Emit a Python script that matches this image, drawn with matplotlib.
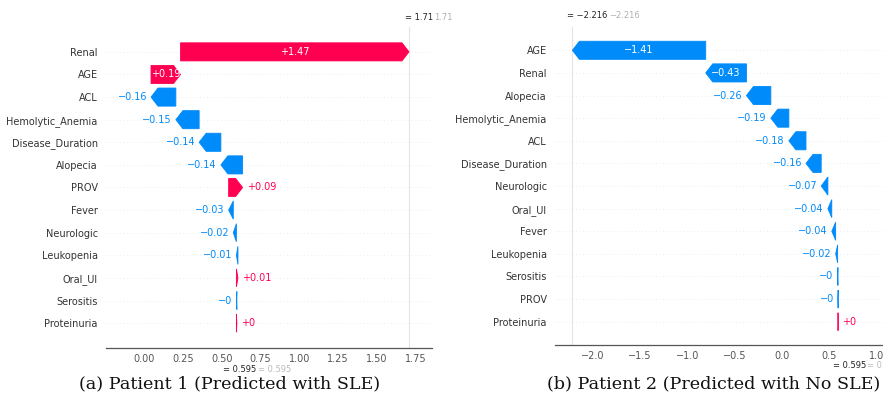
import matplotlib
matplotlib.use('Agg')
import matplotlib.pyplot as plt
import numpy as np

base_value = 0.595

# patient 1 (predicted with SLE), top row first
p1_features = ['Renal', 'AGE', 'ACL', 'Hemolytic_Anemia', 'Disease_Duration', 'Alopecia', 'PROV',
               'Fever', 'Neurologic', 'Leukopenia', 'Oral_Ul', 'Serositis', 'Proteinuria']
p1_shap = [1.472, 0.19, -0.16, -0.15, -0.14, -0.14, 0.09,
           -0.03, -0.02, -0.01, 0.01, -0.003, 0.003]

# patient 2 (predicted with no SLE), top row first
p2_features = ['AGE', 'Renal', 'Alopecia', 'Hemolytic_Anemia', 'ACL', 'Disease_Duration', 'Neurologic',
               'Oral_Ul', 'Fever', 'Leukopenia', 'Serositis', 'PROV', 'Proteinuria']
p2_shap = [-1.411, -0.431, -0.258, -0.191, -0.181, -0.161, -0.071,
           -0.041, -0.041, -0.021, -0.003, -0.002, 0.001]

p1_ticks = [0.0, 0.25, 0.5, 0.75, 1.0, 1.25, 1.5, 1.75]
p2_ticks = [-2.0, -1.5, -1.0, -0.5, 0.0, 0.5, 1.0]

RED = '#ff0051'
BLUE = '#008bfb'
W, H = 883, 400


def fmt(v):
    s = f'{v:+.2f}'.rstrip('0').rstrip('.')
    return s.replace('-', '\u2212')


def fmt_plain(v, nd):
    s = f'{v:.{nd}f}'.rstrip('0').rstrip('.')
    return s.replace('-', '\u2212')


def waterfall(fig, rect_px, xlim, ticks, tickfmt, features, shap, fx_nd, top_off, bot_off, ylim):
    l, r, t, b = rect_px
    ax = fig.add_axes([l / W, 1 - b / H, (r - l) / W, (b - t) / H])
    ax.set_xlim(*xlim)
    ax.set_ylim(*ylim)
    px_per_unit = (r - l) / (xlim[1] - xlim[0])
    head = 7 / px_per_unit

    n = len(features)
    ys = np.arange(n)[::-1]
    vals = np.array(shap)
    fx = base_value + vals.sum()

    for y in ys:
        ax.axhline(y, color='#dddddd', lw=0.5, dashes=(1, 4), zorder=0)
    ax.axvline(fx, color='#e4e4e4', lw=0.8, zorder=0)

    renderer = fig.canvas.get_renderer()
    pos = base_value
    for i in range(n - 1, -1, -1):
        v = vals[i]
        y = ys[i]
        col = RED if v > 0 else BLUE
        ax.arrow(pos, y, v, 0, width=0.8, head_width=0.8, length_includes_head=True,
                 head_length=min(abs(v), head), fc=col, ec=col, lw=0.6, zorder=2)
        mid = pos + v / 2
        txt = ax.text(mid, y, fmt(v), ha='center', va='center', color='white', fontsize=7, zorder=3)
        tw = txt.get_window_extent(renderer=renderer).width
        if tw > abs(v) * px_per_unit:
            txt.remove()
            end = pos + v
            if v > 0:
                ax.annotate(fmt(v), xy=(end, y), xytext=(4, 0), textcoords='offset pixels',
                            ha='left', va='center', color=col, fontsize=7)
            else:
                ax.annotate(fmt(v), xy=(end, y), xytext=(-4, 0), textcoords='offset pixels',
                            ha='right', va='center', color=col, fontsize=7)
        pos += v

    ax.set_yticks(ys)
    ax.set_yticklabels(features, fontsize=7, color='#333333')
    ax.tick_params(axis='y', length=0, pad=6)
    ax.set_xticks(ticks)
    ax.set_xticklabels([tickfmt(v) for v in ticks], fontsize=7, color='#555555')
    ax.tick_params(axis='x', length=0, pad=4)
    for s in ['top', 'right', 'left']:
        ax.spines[s].set_visible(False)
    ax.spines['bottom'].set_color('#555555')
    ax.spines['bottom'].set_linewidth(0.9)

    # f(x) on top, E[f(x)] below the axis: dark value followed by its faint echo
    fx_dark = ax.annotate('= ' + fmt_plain(fx, fx_nd), xy=(fx, 1), xycoords=('data', 'axes fraction'),
                          xytext=top_off, textcoords='offset pixels',
                          ha='left', va='center', fontsize=6, color='#222222')
    ax.annotate(fmt_plain(fx, fx_nd), xy=(1, 0.5), xycoords=fx_dark, xytext=(1, 0),
                textcoords='offset pixels', ha='left', va='center', fontsize=6, color='#b0b0b0')
    b_dark = ax.annotate('= ' + fmt_plain(base_value, 3), xy=(base_value, 0), xycoords=('data', 'axes fraction'),
                         xytext=bot_off, textcoords='offset pixels',
                         ha='left', va='center', fontsize=6, color='#222222')
    ax.annotate('= ' + fmt_plain(base_value, 3), xy=(1, 0.5), xycoords=b_dark, xytext=(1, 0),
                textcoords='offset pixels', ha='left', va='center', fontsize=6, color='#bbbbbb')
    return ax


fig = plt.figure(figsize=(W / 100, H / 100), dpi=100, facecolor='white')
fig.canvas.draw()

waterfall(fig, (106, 432, 27, 348), (-0.245, 1.855), p1_ticks, lambda v: f'{v:.2f}',
          p1_features, p1_shap, 2, (-4, 9), (-13, -21), (-1.1, 13.1))
waterfall(fig, (555, 883, 27, 345), (-2.40, 1.071), p2_ticks, lambda v: f'{v:.1f}'.replace('-', '\u2212'),
          p2_features, p2_shap, 3, (-5, 11), (-5, -21), (-1.03, 13.03))

fig.text(230 / W, 1 - 384 / H, '(a) Patient 1 (Predicted with SLE)', ha='center', va='center',
         fontsize=12.6, family='DejaVu Serif', color='#111111')
fig.text(714 / W, 1 - 384 / H, '(b) Patient 2 (Predicted with No SLE)', ha='center', va='center',
         fontsize=12.6, family='DejaVu Serif', color='#111111')

fig.savefig('out.png', dpi=100, facecolor='white')
plt.close(fig)
